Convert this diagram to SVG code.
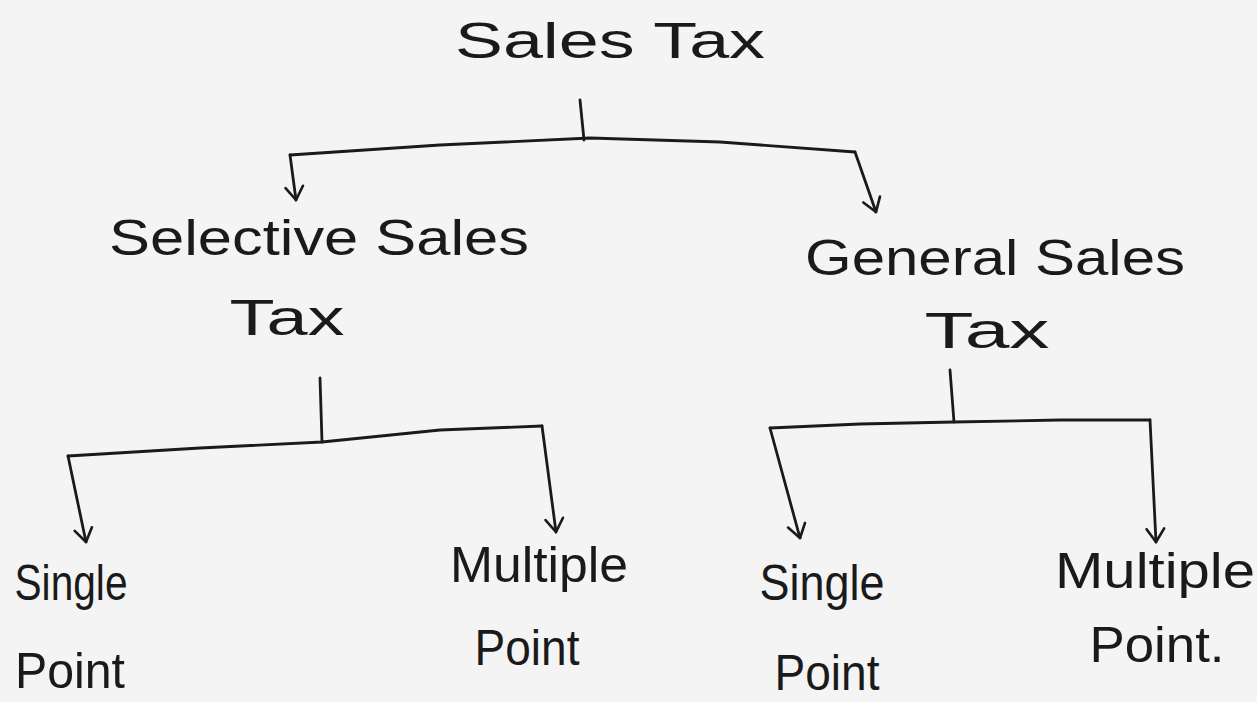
<svg xmlns="http://www.w3.org/2000/svg" width="1257" height="702" viewBox="0 0 1257 702">
<defs>
<marker id="arr" viewBox="0 0 20 20" refX="18" refY="10" markerWidth="22" markerHeight="22" markerUnits="userSpaceOnUse" orient="auto">
<path d="M6,2 L18,10 L6,18" fill="none" stroke="#1a1a1a" stroke-width="2.4" stroke-linecap="round" stroke-linejoin="round"/>
</marker>
<style>
.t{font-family:"Liberation Sans",Arial,sans-serif;fill:#1a1a1a;font-size:50px;text-anchor:middle}
.ln{fill:none;stroke:#1a1a1a;stroke-width:2.8;stroke-linecap:round;stroke-linejoin:round}
</style>
</defs>
<rect width="1257" height="702" fill="#f4f4f4"/>
<g id="connectors">
<path class="ln" d="M580,100 L584,140"/>
<path class="ln" d="M290,155 L440,145 L590,138 L720,142 L855,152"/>
<path class="ln" d="M290,155 L296,200" marker-end="url(#arr)"/>
<path class="ln" d="M855,152 L876,212" marker-end="url(#arr)"/>
<path class="ln" d="M320,378 L322,442"/>
<path class="ln" d="M68,456 L200,448 L322,442 L440,430 L542,426"/>
<path class="ln" d="M68,456 L86,542" marker-end="url(#arr)"/>
<path class="ln" d="M542,426 L556,532" marker-end="url(#arr)"/>
<path class="ln" d="M950,370 L954,422"/>
<path class="ln" d="M770,428 L860,424 L954,422 L1060,420 L1150,420"/>
<path class="ln" d="M770,428 L800,538" marker-end="url(#arr)"/>
<path class="ln" d="M1150,420 L1156,542" marker-end="url(#arr)"/>
</g>
<g id="sales-tax"><text class="t" x="610" y="58" textLength="310" lengthAdjust="spacingAndGlyphs">Sales Tax</text></g>
<g id="selective-sales-tax">
<text class="t" x="319" y="255" textLength="420" lengthAdjust="spacingAndGlyphs">Selective Sales</text>
<text class="t" x="287" y="335" textLength="115" lengthAdjust="spacingAndGlyphs">Tax</text>
</g>
<g id="general-sales-tax">
<text class="t" x="995" y="275" textLength="380" lengthAdjust="spacingAndGlyphs">General Sales</text>
<text class="t" x="987" y="348" textLength="125" lengthAdjust="spacingAndGlyphs">Tax</text>
</g>
<g id="single-point-left">
<text class="t" x="71" y="600" textLength="113" lengthAdjust="spacingAndGlyphs">Single</text>
<text class="t" x="70" y="688" textLength="110" lengthAdjust="spacingAndGlyphs">Point</text>
</g>
<g id="multiple-point-left">
<text class="t" x="539" y="582" textLength="178" lengthAdjust="spacingAndGlyphs">Multiple</text>
<text class="t" x="527" y="665" textLength="105" lengthAdjust="spacingAndGlyphs">Point</text>
</g>
<g id="single-point-right">
<text class="t" x="822" y="600" textLength="125" lengthAdjust="spacingAndGlyphs">Single</text>
<text class="t" x="827" y="690" textLength="105" lengthAdjust="spacingAndGlyphs">Point</text>
</g>
<g id="multiple-point-right">
<text class="t" x="1155" y="588" textLength="200" lengthAdjust="spacingAndGlyphs">Multiple</text>
<text class="t" x="1157" y="662" textLength="135" lengthAdjust="spacingAndGlyphs">Point.</text>
</g>
</svg>
